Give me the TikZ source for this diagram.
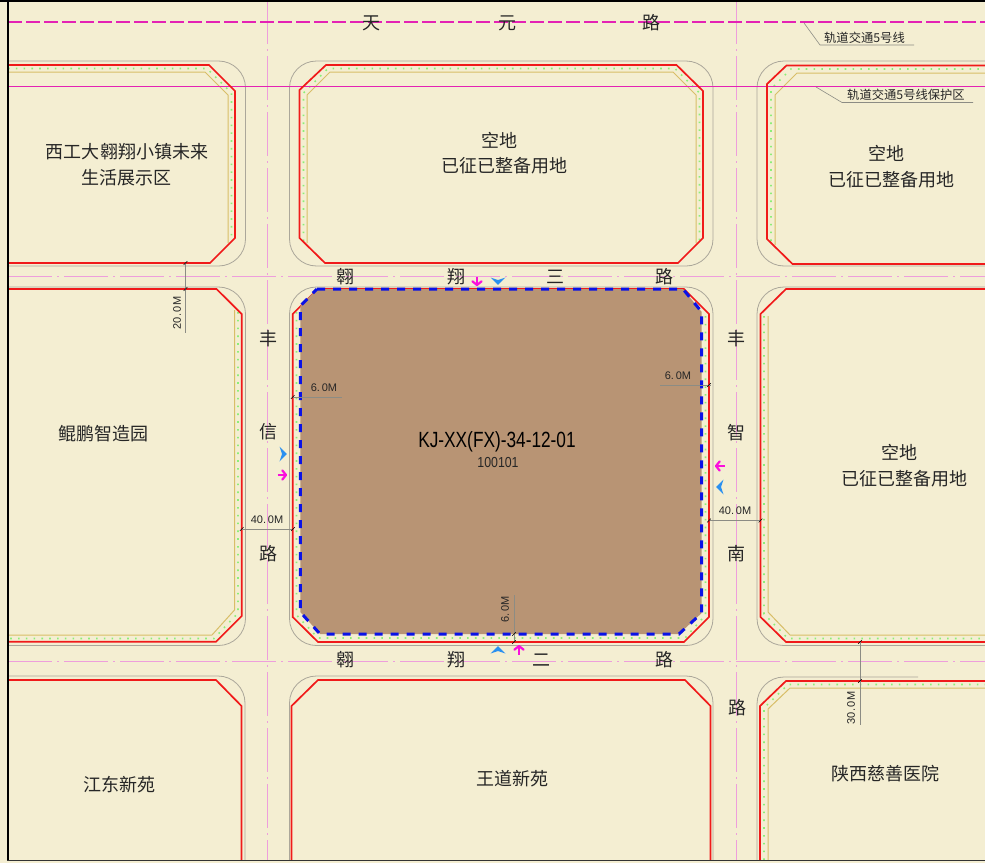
\documentclass[tikz,border=0pt]{standalone}
\usepackage{fontspec}
\setmainfont{Liberation Sans}
\newfontfamily\cjk{Noto Sans CJK SC}
\definecolor{bgc}{HTML}{F4EED2}
\definecolor{redc}{HTML}{F01A1A}
\definecolor{grayc}{HTML}{ABA79A}
\definecolor{olivec}{HTML}{D8BE68}
\definecolor{dotc}{HTML}{8CEE78}
\definecolor{pinkc}{HTML}{EE9EDC}
\definecolor{magc}{HTML}{E422B4}
\definecolor{brownc}{HTML}{B89474}
\definecolor{bluec}{HTML}{0A12E6}
\definecolor{chevc}{HTML}{2A90F0}
\definecolor{arrc}{HTML}{FA10DC}
\definecolor{dimc}{HTML}{8C8C84}
\definecolor{txtc}{HTML}{262626}
\tikzset{
  kerb/.style={draw=grayc,line width=0.8bp,rounded corners=27bp},
  redl/.style={draw=redc,line width=1.7bp,line join=miter},
  olive/.style={draw=olivec,line width=1bp},
  dots/.style={draw=dotc,line width=1.6bp,dash pattern=on 1.6bp off 6.2bp},
  centerl/.style={draw=pinkc,line width=1bp,dash pattern=on 44bp off 5bp on 2bp off 5bp},
  diml/.style={draw=dimc,line width=0.6bp},
  lbl/.style={inner sep=0pt,text=txtc,font=\cjk\fontsize{18bp}{20bp}\selectfont},
  small/.style={inner sep=0pt,text=txtc,font=\cjk\fontsize{12.3bp}{14bp}\selectfont},
  dimt/.style={inner sep=0pt,text=txtc,font=\fontsize{11bp}{12bp}\selectfont},
  bluechev/.pic={\fill[chevc] (-3.5,-7.5) -- (3.8,0) -- (-3.5,7.5) -- (-1,0) -- cycle;},
  magarrow/.pic={\draw[arrc,line width=2.2bp] (-4.5,0) -- (4,0);
     \draw[arrc,line width=2.2bp,line cap=round,line join=round] (0.3,-4.6) -- (4,0) -- (0.3,4.6);},
}
\newcommand{\dimtick}[2]{\draw[black,line width=0.6bp] (#1-1.8,#2+1.8) -- (#1+1.8,#2-1.8);}
\begin{document}
\begin{tikzpicture}[x=1bp,y=-1bp]
\useasboundingbox (0,0) rectangle (985,863);
\fill[bgc] (0,0) rectangle (985,863);

% kerbs
\draw[kerb] (8,61) -- (245.5,61) -- (245.5,266) -- (8,266);
\draw[kerb] (289.5,61) rectangle (713,266);
\draw[kerb] (985,61) -- (757,61) -- (757,266) -- (985,266);
\draw[kerb] (8,287) -- (245.5,287) -- (245.5,645.5) -- (8,645.5);
\draw[kerb] (289.5,287) rectangle (713,645.5);
\draw[kerb] (985,287) -- (757,287) -- (757,645.5) -- (985,645.5);
\draw[kerb] (8,676) -- (245,676) -- (245,860);
\draw[kerb] (289.5,860) -- (289.5,676) -- (713,676) -- (713,860);
\draw[kerb] (918,677) -- (757,677) -- (757,860);

% green belts
\draw[dots] (8,68.5) -- (207,68.5) -- (231.5,93) -- (231.5,241);
\draw[dots] (303.5,241) -- (303.5,93) -- (328,68.5) -- (675,68.5) -- (699.5,93) -- (699.5,241);
\draw[dots] (771,241) -- (771,89) -- (791,69) -- (985,69);
\draw[dots] (238,312) -- (238,613) -- (214,638.5) -- (8,638.5);
\draw[dots] (764,316) -- (764,614) -- (788,638.5) -- (985,638.5);
\draw[dots] (764,860) -- (764,708) -- (788,684.5) -- (985,684.5);
\draw[dots] (296.5,312) -- (296.5,615) -- (318,638) -- (685,638) -- (705.5,615) -- (705.5,312);

% olive lines
\draw[olive] (8,72) -- (205,72) -- (228,95) -- (228,243);
\draw[olive] (307,243) -- (307,95) -- (330,72) -- (673,72) -- (696,95) -- (696,243);
\draw[olive] (775,245) -- (775,95) -- (797,73) -- (985,73);
\draw[olive] (234.5,310) -- (234.5,610) -- (212,635) -- (8,635);
\draw[olive] (768,316) -- (768,612) -- (790,635) -- (985,635);
\draw[olive] (768,860) -- (768,709) -- (790,688) -- (985,688);

% centre lines
\draw[centerl] (267.5,0) -- (267.5,860);
\draw[centerl] (736,0) -- (736,860);
\draw[centerl] (8,276.5) -- (985,276.5);
\draw[centerl] (8,661) -- (985,661);
\draw[magc,line width=1.3bp,dash pattern=on 14bp off 4bp] (8,22) -- (985,22);
\draw[magc,line width=0.9bp] (8,86) -- (985,86);

% red boundaries
\draw[redl] (8,65) -- (209,65) -- (235,91) -- (235,238) -- (210,263) -- (8,263);
\draw[redl] (326,65) -- (676.5,65) -- (703,91) -- (703,238) -- (678,263) -- (325,263) -- (299.5,238) -- (299.5,90) -- cycle;
\draw[redl] (985,65.5) -- (786.5,65.5) -- (767,84) -- (767,239) -- (792.5,264) -- (985,264);
\draw[redl] (8,289) -- (216.5,289) -- (241.7,314) -- (241.7,616) -- (216,641.7) -- (8,641.7);
\draw[redl] (318,289) -- (684,289) -- (709,314) -- (709,617) -- (684,642) -- (318,642) -- (292.7,617) -- (292.7,314) -- cycle;
\draw[redl] (985,289) -- (786,289) -- (760.5,314) -- (760.5,617) -- (786,642) -- (985,642);
\draw[redl] (8,680) -- (216,680) -- (241.5,706) -- (241.5,860);
\draw[redl] (291.5,860) -- (291.5,706) -- (318,680) -- (685,680) -- (710.5,706) -- (710.5,860);
\draw[redl] (760,860) -- (760,706) -- (786,681) -- (985,681);

% plot
\fill[brownc] (317,289) -- (683,289) -- (701.7,312) -- (701.7,613) -- (679,634) -- (320,634) -- (300.3,612) -- (300.3,306) -- cycle;
\draw[bluec,line width=3bp,dash pattern=on 8bp off 8bp] (317,289) -- (683,289) -- (701.7,312) -- (701.7,613) -- (679,634) -- (320,634) -- (300.3,612) -- (300.3,306) -- cycle;

% frame
\draw[black,line width=2bp] (7.5,0) -- (7.5,860.5);
\draw[black,line width=1.6bp] (0,0.7) -- (985,0.7);
\draw[black!80,line width=1.4bp] (7,860.5) -- (985,860.5);

% leaders
\draw[diml] (804,23) -- (820,45) -- (914,45);
\draw[diml] (816,87) -- (842,102.5) -- (973,102.5);
\node[small] (line5) at (864.5,38) {轨道交通5号线};
\node[small] (line5p) at (906,95) {轨道交通5号线保护区};

% dimensions
\draw[diml] (185.5,263) -- (185.5,333); \dimtick{185.5}{263}\dimtick{185.5}{289}
\node[dimt,rotate=90] (d20) at (177,313) {20.\,0M};
\draw[diml] (860,642) -- (860,725); \dimtick{860}{642}\dimtick{860}{681}
\node[dimt,rotate=90] (d30) at (851,708) {30.\,0M};
\draw[diml] (241.7,529) -- (293,529); \dimtick{241.7}{529}\dimtick{293}{529}
\node[dimt] (d40l) at (267,520) {40.\,0M};
\draw[diml] (709,520.5) -- (760.5,520.5); \dimtick{709}{520.5}\dimtick{760.5}{520.5}
\node[dimt] (d40r) at (735,511) {40.\,0M};
\draw[diml] (292.7,397) -- (342,397); \dimtick{292.7}{397}
\node[dimt] (d6l) at (324,388) {6.\,0M};
\draw[diml] (660,385) -- (711,385); \dimtick{709}{385}
\node[dimt] (d6r) at (678,376) {6.\,0M};
\draw[diml] (514,595) -- (514,642); \dimtick{514}{634}\dimtick{514}{642}
\node[dimt,rotate=90] (d6b) at (505,609) {6.\,0M};

% access arrows
\pic at (283,454) {bluechev};
\pic at (282,475) {magarrow};
\pic[rotate=180] at (720,466) {magarrow};
\pic[rotate=180] at (720,487) {bluechev};
\pic[rotate=-90] at (477,281) {magarrow};
\pic[rotate=-90] at (498,281) {bluechev};
\pic[rotate=90] at (498,650) {bluechev};
\pic[rotate=90] at (519,650) {magarrow};

% road names
\node[lbl] (t1) at (371,23) {天};
\node[lbl] (t2) at (507,23) {元};
\node[lbl] (t3) at (651,23) {路};
\node[lbl] (a1) at (345,277) {翱};
\node[lbl] (a2) at (456,277) {翔};
\node[lbl] (a3) at (555,277) {三};
\node[lbl] (a4) at (664,277) {路};
\node[lbl] (b1) at (345,660) {翱};
\node[lbl] (b2) at (456,660) {翔};
\node[lbl] (b3) at (541,660) {二};
\node[lbl] (b4) at (664,660) {路};
\node[lbl] (f1) at (268,339) {丰};
\node[lbl] (f2) at (268,432) {信};
\node[lbl] (f3) at (268,554) {路};
\node[lbl] (z1) at (736,339) {丰};
\node[lbl] (z2) at (736,433) {智};
\node[lbl] (z3) at (736,554) {南};
\node[lbl] (z4) at (737,708) {路};

% block names
\node[lbl] (n1) at (127,152) {西工大翱翔小镇未来};
\node[lbl] (n2) at (126,178) {生活展示区};
\node[lbl] (n3) at (499,140) {空地};
\node[lbl] (n4) at (504,166) {已征已整备用地};
\node[lbl] (n5) at (886,153) {空地};
\node[lbl] (n6) at (891,180) {已征已整备用地};
\node[lbl] (n7) at (899,452) {空地};
\node[lbl] (n8) at (904,479) {已征已整备用地};
\node[lbl] (n9) at (103,434) {鲲鹏智造园};
\node[lbl] (n10) at (119,785) {江东新苑};
\node[lbl] (n11) at (512,779) {王道新苑};
\node[lbl] (n12) at (885,774) {陕西慈善医院};

% plot labels
\node[inner sep=0pt,text=black] (k1) at (497,442) {\scalebox{0.785}[1]{\fontsize{22bp}{24bp}\selectfont KJ-XX(FX)-34-12-01}};
\node[inner sep=0pt,text=txtc] (k2) at (498,463) {\scalebox{0.85}[1]{\fontsize{14.5bp}{16bp}\selectfont 100101}};
\end{tikzpicture}
\end{document}
